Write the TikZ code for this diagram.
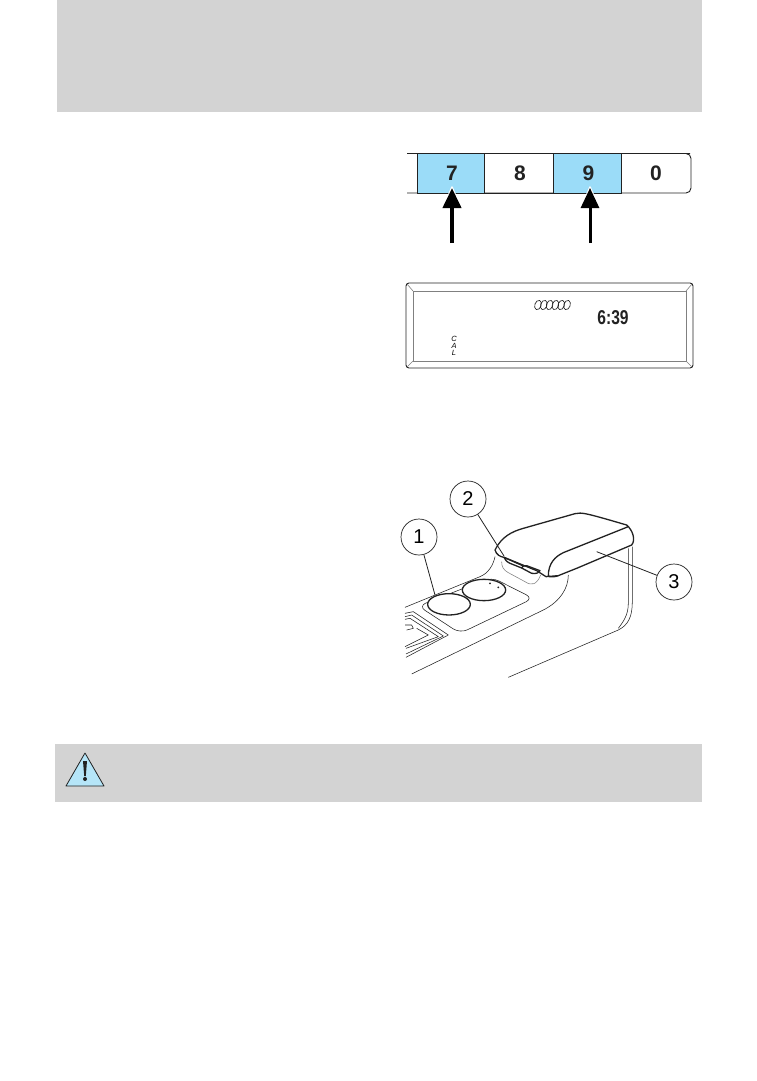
\documentclass[tikz,border=0pt]{standalone}
\usepackage{fontspec}
\setmainfont{Liberation Sans}
\usetikzlibrary{arrows.meta}
\definecolor{bargray}{HTML}{D3D3D3}
\definecolor{keyblue}{HTML}{9BDCF8}
\definecolor{warnblue}{HTML}{B5E5F8}
\definecolor{inkdark}{HTML}{222222}
\tikzset{
	keycell/.style={draw=inkdark,line width=0.9pt,minimum height=39.5pt,minimum width=#1,inner sep=0pt,font=\fontsize{21}{21}\selectfont\bfseries,text=inkdark},
	keyarrow/.style={-{Triangle[width=18pt,length=20pt]},line width=#1,black},
	callout/.style={draw=inkdark,fill=white,circle,line width=0.7pt,minimum size=36pt,inner sep=0pt,font=\fontsize{20}{20}\selectfont},
	leader/.style={draw=inkdark,line width=0.8pt},
	thickline/.style={draw=inkdark,line width=1.3pt,line join=round},
	thinline/.style={draw=inkdark,line width=0.55pt,line join=round}
}
\begin{document}
\begin{tikzpicture}[x=1pt,y=-1pt]
	\useasboundingbox (0,0) rectangle (757,1081);
	\fill[white] (0,0) rectangle (757,1081);

	%gray bars
	\fill[bargray] (57,0) rectangle (702,112);
	\fill[bargray] (55,744) rectangle (702,802);

	%key strip
	\draw[draw=inkdark,line width=0.9pt,rounded corners=5pt] (407,153.5) -- (685,153.5) -- (691,153.5) -- (691,193) -- (407,193);
	\node[keycell=67pt,fill=keyblue] (key7) at (450.5,173.25) {\hspace*{3pt}7};
	\node[keycell=69pt] (key8) at (518.5,173.25) {\hspace*{3pt}8};
	\node[keycell=68pt,fill=keyblue] (key9) at (587,173.25) {\hspace*{3pt}9};
	\node[font=\fontsize{21}{21}\selectfont\bfseries,text=inkdark,inner sep=0pt] (key0) at (656,173.25) {0};

	%arrows
	\coordinate (tail7) at (452,243);
	\coordinate (tip7) at (452,188);
	\coordinate (tail9) at (590,243);
	\coordinate (tip9) at (590,188);
	\draw[white,line width=1.5pt,line join=round] (452,187) -- (461,208) -- (443,208) -- cycle;
	\draw[white,line width=1.5pt,line join=round] (590,187) -- (599,208) -- (581,208) -- cycle;
	\draw[keyarrow=4pt] (tail7) -- (tip7);
	\draw[keyarrow=3pt] (tail9) -- (tip9);

	%display
	\draw[inkdark,line width=0.9pt,rounded corners=3pt] (406,283) rectangle (693,368);
	\draw[gray,line width=0.9pt] (413,291) rectangle (686,361);
	\draw[gray,line width=0.6pt] (407,284) -- (413,291) (692,284) -- (686,291) (407,367) -- (413,361) (692,367) -- (686,361);
	\foreach \ox in {538,543.8,549.6,555.4,561.2,567}
		\draw[inkdark,line width=0.65pt] (\ox,305) ellipse[x radius=3.2pt,y radius=4.8pt,rotate=-20];
	\node[inner sep=0pt,xscale=0.78,font=\fontsize{20}{20}\selectfont\bfseries,text=inkdark] (clock) at (613,318) {6:39};
	\node[inner sep=0pt,font=\fontsize{7.5}{7.5}\selectfont\itshape] (letterc) at (454,339) {C};
	\node[inner sep=0pt,font=\fontsize{7.5}{7.5}\selectfont\itshape] (lettera) at (454,346) {A};
	\node[inner sep=0pt,font=\fontsize{7.5}{7.5}\selectfont\itshape] (letterl) at (454,353) {L};

	%console
	\begin{scope}[shift={(380pt,-500pt)},x=0.3333pt,y=-0.3333pt]
		%lid
		\draw[thickline] (345,150) .. controls (365,110) and (395,95) .. (430,85) -- (585,41) .. controls (605,36) and (620,40) .. (740,75) .. controls (758,90) and (768,120) .. (755,135) -- (590,205) -- (535,227) .. controls (525,231) and (510,232) .. (505,228) .. controls (505,190) and (525,170) .. (550,158) -- (745,80);
		\draw[thickline] (345,150) .. controls (350,165) and (360,170) .. (372,172) -- (470,212) -- (498,230) -- (535,227);
		%latch
		\draw[thickline] (372,172) .. controls (375,180) and (380,185) .. (390,190) -- (425,204) -- (430,198) -- (372,172);
		\draw[thickline] (425,204) -- (455,220) .. controls (470,222) and (478,218) .. (480,212) -- (440,197) -- (430,198);
		\draw[thinline,gray] (365,185) .. controls (365,200) and (370,210) .. (385,218) -- (435,245) .. controls (455,258) and (470,255) .. (482,225);
		%base
		\draw[thinline] (745,145) -- (745,310) .. controls (745,345) and (730,365) .. (715,385);
		\draw[thinline] (757,140) -- (757,305) .. controls (757,350) and (745,375) .. (715,390) -- (385,532);
		\draw[thinline] (345,170) .. controls (340,195) and (325,220) .. (300,230) -- (75,322);
		\draw[thinline] (565,225) .. controls (565,265) and (540,305) .. (490,330) -- (95,522);
		%cup holder panel
		\draw[thinline,rounded corners=8pt] (115,318) -- (335,232) -- (460,295) -- (240,400) -- cycle;
		\draw[thickline,fill=white] (312,270) ellipse[x radius=65,y radius=32];
		\draw[thickline,fill=white] (207,313) ellipse[x radius=64,y radius=32];
		\fill[inkdark] (330,250) circle[radius=3] (355,262) circle[radius=3];
		%shifter
		\draw[thinline] (75,340) -- (100,335) -- (205,405) -- (78,472);
		\draw[thinline] (75,350) -- (95,345) -- (190,408) -- (78,462);
		\draw[thinline] (75,375) -- (95,375) -- (100,385) -- (80,390);
		\draw[thinline] (75,358) -- (90,355) -- (175,410) -- (78,445);
		\draw[thinline] (75,440) -- (145,405) -- (110,385);
		%callout positions
		\coordinate (end1) at (165,285);
		\coordinate (end2) at (372,168);
		\coordinate (end3) at (650,155);
	\end{scope}

	%callouts
	\node[callout] (call1) at (419,537) {1};
	\node[callout] (call2) at (468,499) {2};
	\node[callout] (call3) at (674,582) {3};
	\draw[leader] (call1) -- (end1);
	\draw[leader] (call2) -- (end2);
	\draw[leader] (call3) -- (end3);

	%warning sign
	\draw[inkdark,fill=warnblue,line width=0.8pt,line join=round] (85,753) -- (104,786) -- (66,786) -- cycle;
	\fill[inkdark] (83,761) -- (87,761) -- (85.8,776) -- (84.2,776) -- cycle;
	\fill[inkdark] (85,779) circle[radius=2pt];
\end{tikzpicture}
\end{document}
